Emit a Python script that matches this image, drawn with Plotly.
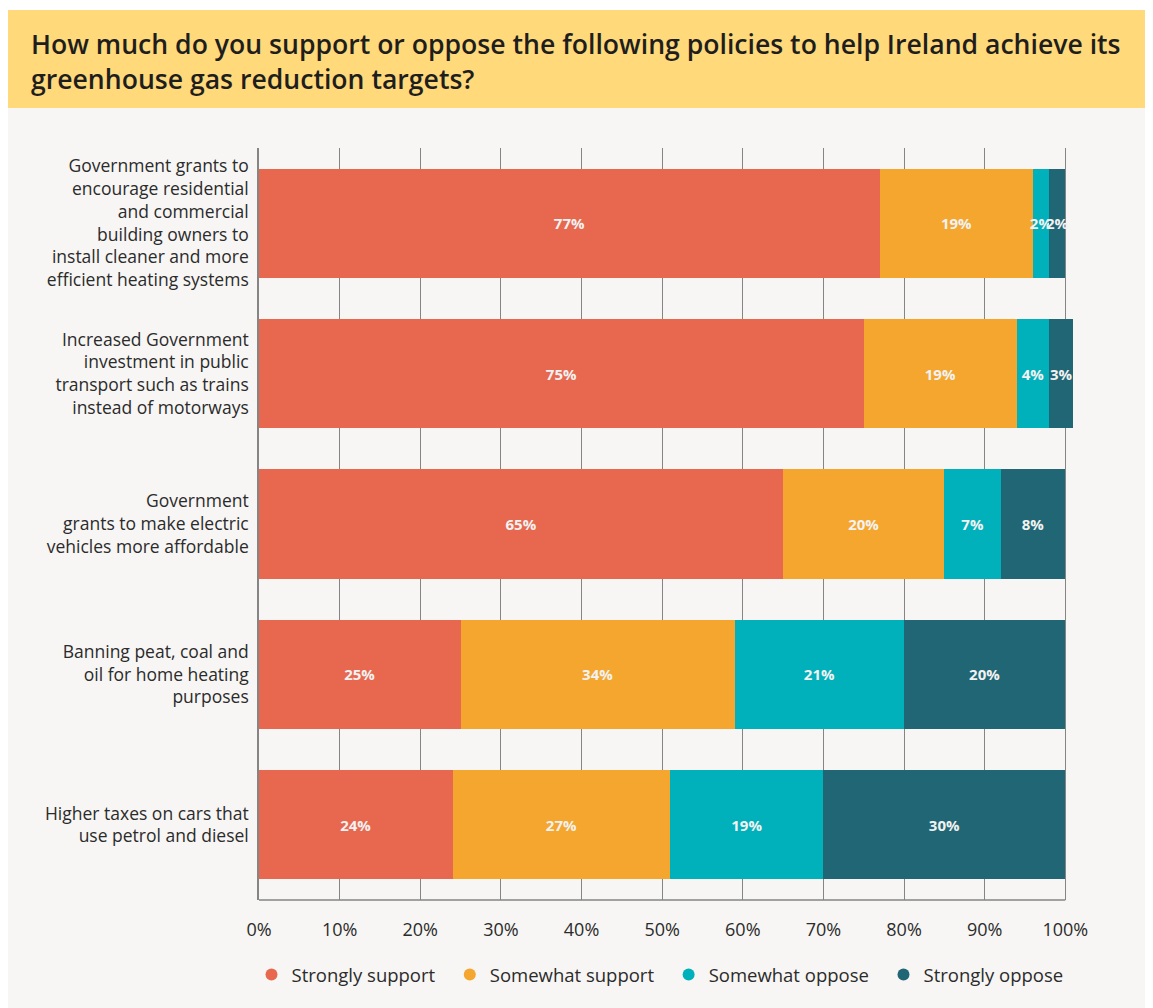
import plotly.graph_objects as go

categories = [
    "Government grants to<br>encourage residential<br>and commercial<br>building owners to<br>install cleaner and more<br>efficient heating systems",
    "Increased Government<br>investment in public<br>transport such as trains<br>instead of motorways",
    "Government<br>grants to make electric<br>vehicles more affordable",
    "Banning peat, coal and<br>oil for home heating<br>purposes",
    "Higher taxes on cars that<br>use petrol and diesel",
]
series_names = ["Strongly support", "Somewhat support", "Somewhat oppose", "Strongly oppose"]
strongly_support = [77, 75, 65, 25, 24]
somewhat_support = [19, 19, 20, 34, 27]
somewhat_oppose = [2, 4, 7, 21, 19]
strongly_oppose = [2, 3, 8, 20, 30]
colors = ["#E8674F", "#F5A62E", "#00B0BA", "#216674"]
tick_vals = [0, 10, 20, 30, 40, 50, 60, 70, 80, 90, 100]
tick_text = ["0%", "10%", "20%", "30%", "40%", "50%", "60%", "70%", "80%", "90%", "100%"]
AXIS_MAX = 100
RANGE_MAX = 101.2

FONT = "Open Sans"
OFF = 8  # page offset of the figure (body margin)
W, H = 1153 - OFF, 1008 - OFF
L, T, B = 259 - OFF, 148 - OFF, 1008 - 900
pw = 806 * RANGE_MAX / AXIS_MAX
R = W - L - pw
ph = H - T - B

def px2x(x):
    return (x - OFF - L) / pw

def px2y(y):
    return (H - B - (y - OFF)) / ph

NB = "\u00a0" * 2

fig = go.Figure()
all_series = [strongly_support, somewhat_support, somewhat_oppose, strongly_oppose]
for name, vals, col in zip(series_names, all_series, colors):
    fig.add_trace(go.Bar(
        y=categories, x=vals, name=name, orientation="h",
        marker=dict(color=col, line=dict(width=0)),
        text=[f"{v}%" for v in vals], textposition="inside",
        insidetextanchor="middle", textangle=0, constraintext="none",
        textfont=dict(family=FONT, size=15, color="#F2F2F2", weight="bold"),
        cliponaxis=False,
        showlegend=False, hoverinfo="skip",
    ))
for i, (name, col) in enumerate(zip(series_names, colors)):
    fig.add_trace(go.Scatter(
        x=[None], y=[None], mode="markers",
        name=name + (NB if i < len(series_names) - 1 else ""),
        marker=dict(color=col, size=11, symbol="circle"),
        showlegend=True,
    ))

fig.update_layout(
    width=W, height=H,
    barmode="stack", bargap=0.275,
    margin=dict(l=L, r=R, t=T, b=B, autoexpand=False),
    paper_bgcolor="#FFFFFF", plot_bgcolor="rgba(0,0,0,0)",
    font=dict(family=FONT, size=18, color="#2B2B2B"),
    showlegend=True,
    legend=dict(orientation="h", xref="container", x=(660 - OFF) / W, xanchor="center",
                y=px2y(975), yanchor="middle",
                font=dict(family=FONT, size=18.5, color="#2B2B2B"),
                traceorder="normal",
                itemsizing="constant", itemwidth=30, tracegroupgap=0,
                bgcolor="rgba(0,0,0,0)"),
    xaxis=dict(range=[0, RANGE_MAX], tickvals=tick_vals, ticktext=tick_text,
               showgrid=True, gridcolor="#858585", gridwidth=1.3,
               showline=False,
               zeroline=False, ticks="", ticklabelstandoff=17,
               tickfont=dict(family=FONT, size=18, color="#2B2B2B"), fixedrange=True),
    yaxis=dict(autorange="reversed", showline=True, linecolor="#858585", linewidth=1.5,
               showgrid=False, ticks="", ticklabelstandoff=5,
               tickfont=dict(family=FONT, size=17.5, color="#2B2B2B"), fixedrange=True),
    shapes=[
        dict(type="rect", xref="paper", yref="paper", layer="below",
             x0=px2x(8), x1=px2x(1160), y0=px2y(1010), y1=px2y(108),
             fillcolor="#F7F6F4", line=dict(width=0)),
        dict(type="rect", xref="paper", yref="paper", layer="below",
             x0=px2x(8), x1=px2x(1160), y0=px2y(108), y1=px2y(10),
             fillcolor="#FFD97A", line=dict(width=0)),
        dict(type="line", xref="x", yref="paper", layer="below",
             x0=0, x1=AXIS_MAX, y0=0, y1=0,
             line=dict(color="#858585", width=1.5)),
    ],
    annotations=[
        dict(xref="paper", yref="paper", x=px2x(29), y=px2y(61), xanchor="left", yanchor="middle",
             align="left", showarrow=False,
             text="How much do you support or oppose the following policies to help Ireland achieve its<br>greenhouse gas reduction targets?",
             font=dict(family=FONT, size=26.6, color="#1E1E1E", weight=600)),
    ],
)

fig.write_html("out.html")
